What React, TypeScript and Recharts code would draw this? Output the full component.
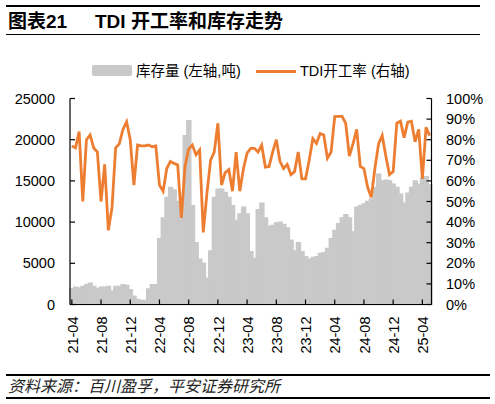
import React from "react";
import { ComposedChart, Bar, Line, XAxis, YAxis } from "recharts";

const months = [
  "21-04","21-05","21-06","21-07","21-08","21-09","21-10","21-11","21-12",
  "22-01","22-02","22-03","22-04","22-05","22-06","22-07","22-08","22-09","22-10","22-11","22-12",
  "23-01","23-02","23-03","23-04","23-05","23-06","23-07","23-08","23-09","23-10","23-11","23-12",
  "24-01","24-02","24-03","24-04","24-05","24-06","24-07","24-08","24-09","24-10","24-11","24-12",
  "25-01","25-02","25-03","25-04","25-05",
];

const tickLabels = ["21-04","21-08","21-12","22-04","22-08","22-12","23-04","23-08","23-12","24-04","24-08","24-12","25-04"];

// inventory (tonnes), half-monthly
const inventory = [
  1900, 2100, 2000, 2200, 2400, 2600, 2200, 1900, 2100, 2100,
  2200, 1600, 2200, 2200, 2400, 2300, 1800, 1000, 600, 500,
  500, 1900, 2400, 2400, 8000, 10500, 13000, 14200, 13900, 12500,
  11500, 20500, 22300, 12000, 7500, 5500, 5000, 3200, 6500, 13000,
  14000, 14000, 13600, 13000, 12000, 10200, 11000, 11800, 11000, 6400,
  5600, 11500, 12300, 10500, 9500, 9600, 9900, 10000, 9700, 9300,
  7800, 6500, 7500, 6400, 5800, 5500, 5700, 5800, 6200, 6300,
  6800, 8000, 9000, 9800, 10500, 10900, 10500, 8800, 11800, 12000,
  12200, 12500, 12800, 14200, 15800, 15000, 15100, 15000, 14600, 14200,
  13400, 12300, 13500, 14200, 15000, 14600, 15300, 15500, 14500,
];

// TDI operating rate (%), half-monthly
const operatingRate = [
  77, 76, 84, 50, 80, 82.3, 76, 74, 50, 68,
  36, 47, 76, 78, 85, 88.7, 80, 58, 77.4, 77,
  77, 77.4, 76.6, 77, 58, 55, 66, 69.5, 68.5, 67.7,
  42, 67, 75.5, 77.4, 72.6, 75, 35, 54, 70, 74,
  88, 58, 64, 65.5, 55, 74, 55, 66, 73.5, 75.8,
  75.8, 74, 77.4, 66.7, 67, 74, 80, 69.5, 66, 68,
  63, 64.5, 74, 61, 61, 70, 80.5, 78.2, 83, 82.3,
  71, 74, 91.2, 91.3, 91.3, 88, 72, 78, 85, 67,
  66, 57, 52, 66, 78, 82, 72, 63, 64.5, 88,
  89, 81, 88.5, 89, 79, 85, 61, 86, 82,
];

const leftTicks = [0, 5000, 10000, 15000, 20000, 25000];
const rightTicks = [0, 10, 20, 30, 40, 50, 60, 70, 80, 90, 100];

const periods = months.flatMap((m) => [m + "-1", m + "-2"]).slice(0, inventory.length);
const data = periods.map((p, i) => ({ p, inv: inventory[i], rate: operatingRate[i] }));

const FONT = "'Liberation Sans', Arial, 'Noto Sans CJK SC', sans-serif";
const GRAY = "#c9c9c9";
const ORANGE = "#ED7D31";

const XTick = (props: any) => {
  const { x, y, payload } = props;
  const label = String(payload.value).slice(0, 5);
  return (
    <text
      x={x + 0.5}
      y={y}
      transform={`rotate(-90, ${x + 0.5}, ${y})`}
      textAnchor="end"
      dy="0.36em"
      fontSize={14.5}
      fontFamily={FONT}
      fill="#000"
    >
      {label}
    </text>
  );
};

export default function App() {
  return (
    <div style={{ position: "absolute", left: 0, top: 0, width: 495, height: 404, background: "#fff", fontFamily: FONT }}>
      <div style={{ position: "absolute", left: 6, top: 5, width: 474, height: 1.5, background: "#000" }} />
      <div style={{ position: "absolute", left: 8, top: 11, fontSize: 19, lineHeight: "22px", fontWeight: "bold", whiteSpace: "nowrap", color: "#000" }}>
        图表21
      </div>
      <div style={{ position: "absolute", left: 95, top: 11, fontSize: 19, lineHeight: "22px", fontWeight: "bold", whiteSpace: "nowrap", color: "#000" }}>
        TDI 开工率和库存走势
      </div>
      <div style={{ position: "absolute", left: 6, top: 33.5, width: 474, height: 1.5, background: "#000" }} />

      <div style={{ position: "absolute", left: 0, top: 61, width: 495, height: 20, fontSize: 14.5, color: "#000" }}>
        <div style={{ position: "absolute", left: 92, top: 4, width: 40, height: 11, background: GRAY, borderRadius: 2 }} />
        <div style={{ position: "absolute", left: 136, top: 0, whiteSpace: "nowrap", lineHeight: "20px" }}>库存量 (左轴,吨)</div>
        <div style={{ position: "absolute", left: 256, top: 8.5, width: 40, height: 3, background: ORANGE }} />
        <div style={{ position: "absolute", left: 300, top: 0, whiteSpace: "nowrap", lineHeight: "20px" }}>TDI开工率 (右轴)</div>
      </div>

      <div style={{ position: "absolute", left: 0, top: 0 }}>
        <ComposedChart
          width={495}
          height={404}
          data={data}
          margin={{ top: 98.5, right: 0, bottom: 0, left: 0 }}
          barCategoryGap={0}
          barGap={0}
        >
          <XAxis
            dataKey="p"
            type="category"
            ticks={tickLabels.map((t) => t + "-1")}
            interval={0}
            height={99.5}
            tick={<XTick />}
            tickSize={-5}
            tickMargin={17}
            axisLine={{ stroke: "#000", strokeWidth: 1.2 }}
            tickLine={{ stroke: "#000", strokeWidth: 1.2 }}
          />
          <YAxis
            yAxisId="left"
            orientation="left"
            width={70}
            domain={[0, 25000]}
            ticks={leftTicks}
            interval={0}
            tickSize={-5}
            tickMargin={20}
            axisLine={{ stroke: "#000", strokeWidth: 1.2 }}
            tickLine={{ stroke: "#000", strokeWidth: 1.2 }}
            tick={{ fontSize: 14.5, fill: "#000", fontFamily: FONT }}
          />
          <YAxis
            yAxisId="right"
            orientation="right"
            width={63.5}
            domain={[0, 100]}
            ticks={rightTicks}
            interval={0}
            tickSize={-5}
            tickMargin={19.5}
            tickFormatter={(v: number) => `${v}%`}
            axisLine={{ stroke: "#000", strokeWidth: 1.2 }}
            tickLine={{ stroke: "#000", strokeWidth: 1.2 }}
            tick={{ fontSize: 14.5, fill: "#000", fontFamily: FONT, textAnchor: "start" }}
          />
          <Bar
            yAxisId="left"
            dataKey="inv"
            fill={GRAY}
            stroke={GRAY}
            strokeWidth={1.4}
            isAnimationActive={false}
          />
          <Line
            yAxisId="right"
            dataKey="rate"
            type="linear"
            stroke={ORANGE}
            strokeWidth={2.8}
            dot={false}
            activeDot={false}
            isAnimationActive={false}
          />
        </ComposedChart>
      </div>

      <div style={{ position: "absolute", left: 6, top: 374, width: 484, height: 1.5, background: "#000" }} />
      <div style={{ position: "absolute", left: 8, top: 377, fontSize: 16, lineHeight: "20px", fontStyle: "italic", whiteSpace: "nowrap", color: "#222" }}>
        资料来源：百川盈孚，平安证券研究所
      </div>
      <div style={{ position: "absolute", left: 6, top: 397, width: 484, height: 1.5, background: "#000" }} />
    </div>
  );
}
